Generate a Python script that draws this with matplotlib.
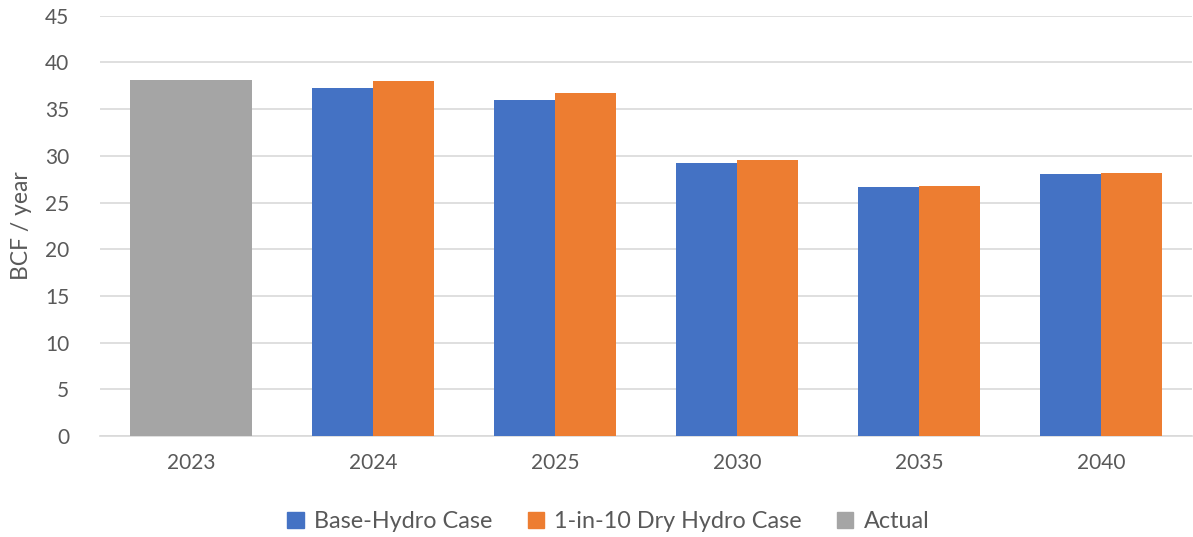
import matplotlib
matplotlib.use("Agg")
import matplotlib.pyplot as plt
import numpy as np
from matplotlib.patches import Patch

categories = ["2023", "2024", "2025", "2030", "2035", "2040"]
actual = [38.1, None, None, None, None, None]
base_hydro = [None, 37.25, 36.0, 29.2, 26.65, 28.1]
dry_hydro = [None, 38.0, 36.7, 29.5, 26.75, 28.2]
yticks = [0, 5, 10, 15, 20, 25, 30, 35, 40, 45]

plt.rcParams['font.family'] = ['Lato', 'DejaVu Sans']
txt = '#595959'
c_base = '#4472C4'
c_dry = '#ED7D31'
c_act = '#A5A5A5'

fig = plt.figure(figsize=(11.93, 5.37), dpi=100)
ax = fig.add_axes([0.0838, 0.188, 0.9152, 0.7828])

x = np.arange(len(categories))
w = 0.335
for i in range(len(categories)):
    if actual[i] is not None:
        ax.bar(x[i], actual[i], width=2 * w, color=c_act, zorder=3)
    if base_hydro[i] is not None:
        ax.bar(x[i] - w / 2, base_hydro[i], width=w, color=c_base, zorder=3)
    if dry_hydro[i] is not None:
        ax.bar(x[i] + w / 2, dry_hydro[i], width=w, color=c_dry, zorder=3)

ax.set_xlim(-0.5, len(categories) - 0.5)
ax.set_ylim(0, 45)
ax.set_yticks(yticks)
ax.set_xticks(x)
ax.set_xticklabels(categories)
ax.yaxis.grid(True, color='#D9D9D9', linewidth=1.2, zorder=0)
ax.set_axisbelow(True)
for s in ['top', 'right', 'left']:
    ax.spines[s].set_visible(False)
ax.spines['bottom'].set_color('#D9D9D9')
ax.spines['bottom'].set_linewidth(1.2)
ax.tick_params(axis='both', length=0, labelsize=15, colors=txt)
ax.tick_params(axis='y', pad=22)
ax.tick_params(axis='x', pad=12)
ax.set_ylabel("BCF / year", fontsize=16.5, color=txt)
ax.yaxis.set_label_coords(-0.062, 0.5)

handles = [Patch(color=c_base, label="Base-Hydro Case"),
           Patch(color=c_dry, label="1-in-10 Dry Hydro Case"),
           Patch(color=c_act, label="Actual")]
leg = fig.legend(handles=handles, loc='center', bbox_to_anchor=(0.51, 0.029),
                 ncol=3, frameon=False, fontsize=16.8, handlelength=0.7,
                 handleheight=0.7, handletextpad=0.45, columnspacing=1.5)
for t in leg.get_texts():
    t.set_color(txt)

fig.savefig("out.png", dpi=100)
